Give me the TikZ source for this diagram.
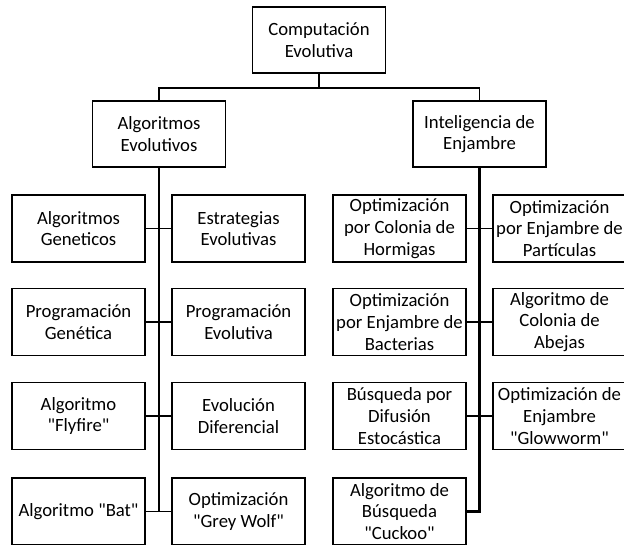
\documentclass[tikz,border=0pt]{standalone}
\usepackage{fontspec}
\setmainfont[Ligatures=TeXOff]{Carlito}
\tikzset{
  box/.style ={draw,line width=1.5pt,align=center,inner sep=0pt,minimum width=133pt,minimum height=67pt,
               font=\fontsize{18.7}{21.7}\selectfont},
  head/.style={box,minimum width=133pt,minimum height=66pt},
  link/.style={line width=1.5pt},
  trunk/.style={line width=2.2pt},
}
\begin{document}
\begin{tikzpicture}[x=1pt,y=-1pt]
  \useasboundingbox (0,0) rectangle (624,544);
  % top levels
  \node[head] (ce) at (319,40) {Computación\\Evolutiva};
  \node[head] (ae) at (159,134) {Algoritmos\\Evolutivos};
  \node[head] (ie) at (479.5,134) {Inteligencia de\\Enjambre};
  \draw[link] (ce.south) -- ++(0,14) coordinate (j);
  \draw[link] (ae.north) |- (j) -| (ie.north);
  % evolutionary algorithms
  \foreach \n/\x/\y/\t in {ag/78.5/228.5/{Algoritmos\\Geneticos},ee/238.5/228.5/{Estrategias\\Evolutivas},
      pg/78.5/322/{Programación\\Genética},pe/238.5/322/{Programación\\Evolutiva},
      af/78.5/416/{Algoritmo\\"Flyfire"},ed/238.5/416/{Evolución\\Diferencial},
      ab/78.5/511.5/{Algoritmo "Bat"},gw/238.5/511.5/{Optimización\\"Grey Wolf"}}{
    \node[box] (\n) at (\x,\y) {\t};}
  % swarm intelligence
  \foreach \n/\x/\y/\t in {oh/399.5/228.5/{Optimización\\por Colonia de\\Hormigas},op/559.5/228.5/{Optimización\\por Enjambre de\\Partículas},
      ob/399.5/322/{Optimización\\por Enjambre de\\Bacterias},ca/559.5/322/{Algoritmo de\\Colonia de\\Abejas},
      bd/399.5/416/{Búsqueda por\\Difusión\\Estocástica},og/559.5/416/{Optimización de\\Enjambre\\"Glowworm"},
      cu/399.5/511.5/{Algoritmo de\\Búsqueda\\"Cuckoo"}}{
    \node[box] (\n) at (\x,\y) {\t};}
  % connectors
  \draw[trunk] (ae.south) -- (ae.south |- ab.east);
  \draw[trunk] (ie.south) |- (cu.east);
  \foreach \a/\b in {ag/ee,pg/pe,af/ed,ab/gw,oh/op,ob/ca,bd/og}
    \draw[link] (\a.east) -- (\b.west);
\end{tikzpicture}
\end{document}
